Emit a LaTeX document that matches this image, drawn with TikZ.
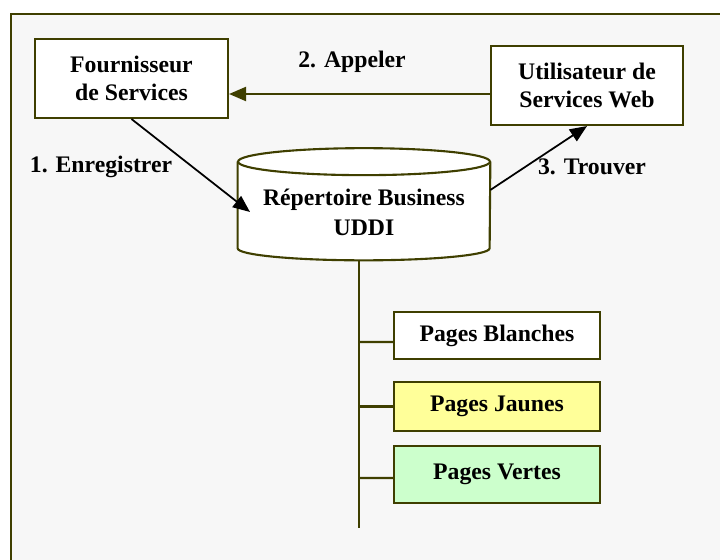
\documentclass[tikz,border=0pt]{standalone}
\usepackage{xcolor}
\usepackage{fontspec}
\setmainfont{Liberation Serif}
\usepackage{tikz}
\usetikzlibrary{arrows.meta,calc,backgrounds}

\definecolor{bordure}{HTML}{3F3F00}
\definecolor{fond}{HTML}{F7F7F7}
\definecolor{jaune}{HTML}{FFFF99}
\definecolor{vert}{HTML}{CCFFCC}

\tikzset{
  >={Triangle[length=0.34cm,width=0.28cm]},
  boite/.style={draw=bordure, line width=1.2pt, fill=white, align=center,
    inner sep=0pt, font=\bfseries\fontsize{13.5}{16}\selectfont},
  page/.style={boite, minimum width=4.12cm},
  etiquette/.style={font=\bfseries\fontsize{13.5}{16}\selectfont}
}

\begin{document}
\begin{tikzpicture}[x=0.02cm,y=-0.02cm]
                    \useasboundingbox (0,0) rectangle (720,560);
                    \clip (0,0) rectangle (720,560);

                    \node[boite, minimum width=3.86cm, minimum height=1.58cm] (fournisseur) at (131.5,78.5) {Fournisseur\\de Services};
                    \node[boite, minimum width=3.84cm, minimum height=1.58cm] (utilisateur) at (587,85.5) {Utilisateur de\\Services Web};

                    % le cylindre
                    \node[draw=none, minimum width=5.04cm, minimum height=1.72cm, inner sep=0pt] (uddi) at (364,205) {};
                    \node[etiquette, align=center, font=\bfseries\fontsize{13.5}{17}\selectfont] (nomuddi) at (364,212) {R\'epertoire Business\\UDDI};
                    \begin{scope}[on background layer]
                    \draw[draw=bordure, line width=1.2pt, fill=fond] (11,14) rectangle (740,580);
                    \filldraw[draw=bordure, line width=1.2pt, fill=white] (uddi.north west) -- (uddi.south west) arc (180:360:2.52cm and 0.24cm) -- (uddi.north east);
                    \filldraw[draw=bordure, line width=1.2pt, fill=white] (uddi.north) ellipse (2.52cm and 0.27cm);
                    \end{scope}

                    \node[page, minimum height=0.94cm] (blanches) at (497,335.5) {Pages Blanches};
                    \node[page, minimum height=0.98cm, fill=jaune] (jaunes) at (497,406.5) {Pages Jaunes};
                    \node[page, minimum height=1.14cm, fill=vert] (vertes) at (497,474.5) {Pages Vertes};

                    \coordinate (appel) at (491,94);
                    \coordinate (depot) at (250,212);
                    \coordinate (haut) at (359,260);
                    \coordinate (tronc) at (359,528);

                    \draw[->, draw=bordure, fill=bordure, line width=1.2pt] (appel) -- (fournisseur.east |- appel);
                    \draw[->, line width=1pt] (fournisseur.south) -- (depot);
                    \draw[->, line width=1pt] ($(uddi.east)+(0,-15)$) -- (utilisateur.south);

                    \node[etiquette] (l2) at (352,62) {2. Appeler};
                    \node[etiquette] (l1) at (101,167) {1. Enregistrer};
                    \node[etiquette] (l3) at (592,167) {3. Trouver};

                    \draw[draw=bordure, line width=1.2pt] (haut) -- (tronc);
                    \draw[draw=bordure, line width=1.2pt] (tronc |- 0,342) -- ($(blanches.west)+(0,6.5)$);
                    \draw[draw=bordure, line width=1.2pt] (tronc |- jaunes.west) -- (jaunes.west);
                    \draw[draw=bordure, line width=1.2pt] (tronc |- 0,478) -- ($(vertes.west)+(0,3.5)$);
                \end{tikzpicture}
\end{document}
